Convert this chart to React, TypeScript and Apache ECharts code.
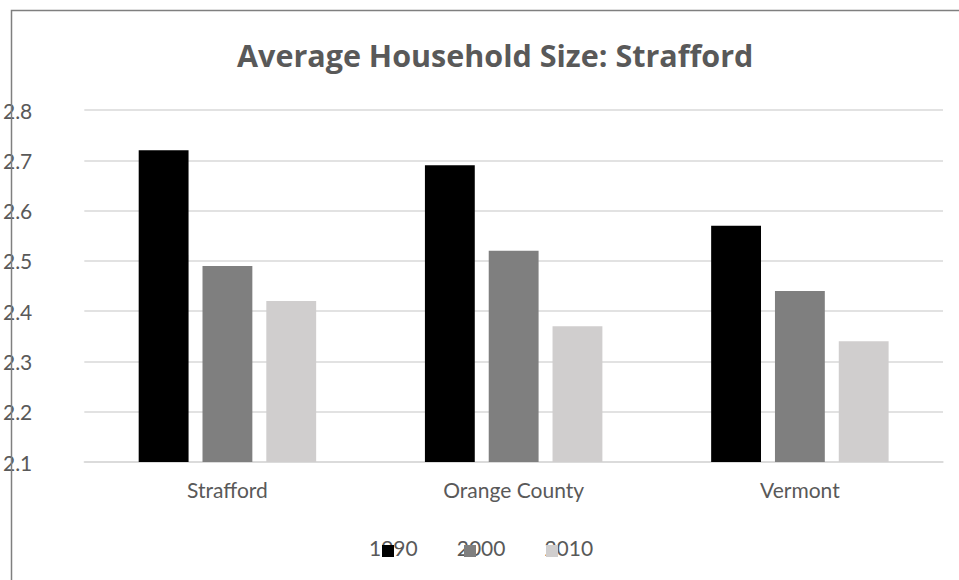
import React, { useEffect, useRef } from "react";
import * as echarts from "echarts";

const categories = ["Strafford", "Orange County", "Vermont"];
const seriesNames = ["1990", "2000", "2010"];
const values1990 = [2.72, 2.69, 2.57];
const values2000 = [2.49, 2.52, 2.44];
const values2010 = [2.42, 2.37, 2.34];
const colors = ["#000000", "#7f7f7f", "#d0cece"];
const FONT = "Lato, 'Noto Sans', sans-serif";

export default function App() {
  const ref = useRef<HTMLDivElement>(null);
  useEffect(() => {
    document.body.style.margin = "0";
    const chart = echarts.init(ref.current!, null, { renderer: "svg" });
    const data = [values1990, values2000, values2010];
    chart.setOption({
      animation: false,
      backgroundColor: "#ffffff",
      title: {
        text: "Average Household Size: Strafford",
        left: 232,
        top: 34,
        textStyle: { fontFamily: "'Open Sans', sans-serif", fontSize: 30.5, fontWeight: "bold", color: "#595959" },
      },
      legend: [
        {
          data: seriesNames,
          left: 377,
          top: 540,
          itemWidth: 12,
          itemHeight: 12,
          itemGap: 70,
          icon: "rect",
          formatter: () => "",
          selectedMode: false,
          z: 5,
          textStyle: { fontSize: 1 },
        },
        {
          data: seriesNames.map((n) => ({ name: n, icon: "none" })),
          left: 359,
          top: 532,
          itemWidth: 0,
          itemHeight: 12,
          itemGap: 34,
          selectedMode: false,
          z: 1,
          textStyle: { fontFamily: FONT, fontSize: 21, color: "#595959" },
        },
      ],
      grid: { left: 82, right: 16, top: 110, bottom: 118 },
      xAxis: {
        type: "category",
        data: categories,
        axisLine: { lineStyle: { color: "#d9d9d9", width: 1.5 } },
        axisTick: { show: false },
        axisLabel: { fontFamily: FONT, fontSize: 21, color: "#595959", margin: 17 },
      },
      yAxis: {
        type: "value",
        min: 2.1,
        max: 2.8,
        interval: 0.1,
        axisLine: { show: false },
        axisTick: { show: false },
        splitLine: { lineStyle: { color: "#d9d9d9", width: 1.5 } },
        axisLabel: {
          fontFamily: FONT,
          fontSize: 21,
          color: "#595959",
          margin: 52,
          formatter: (v: number) => v.toFixed(1),
        },
      },
      series: seriesNames.map((name, i) => ({
        name,
        type: "bar",
        data: data[i],
        itemStyle: { color: colors[i] },
        barGap: "28%",
        barCategoryGap: "38%",
      })),
      graphic: [
        {
          type: "polyline",
          shape: { points: [[11.5, 580], [11.5, 10.5], [959, 10.5]] },
          style: { stroke: "#7f7f7f", lineWidth: 1.5, fill: "none" },
          z: 100,
        },
      ],
    });
    return () => chart.dispose();
  }, []);
  return <div ref={ref} style={{ width: 959, height: 580 }} />;
}
